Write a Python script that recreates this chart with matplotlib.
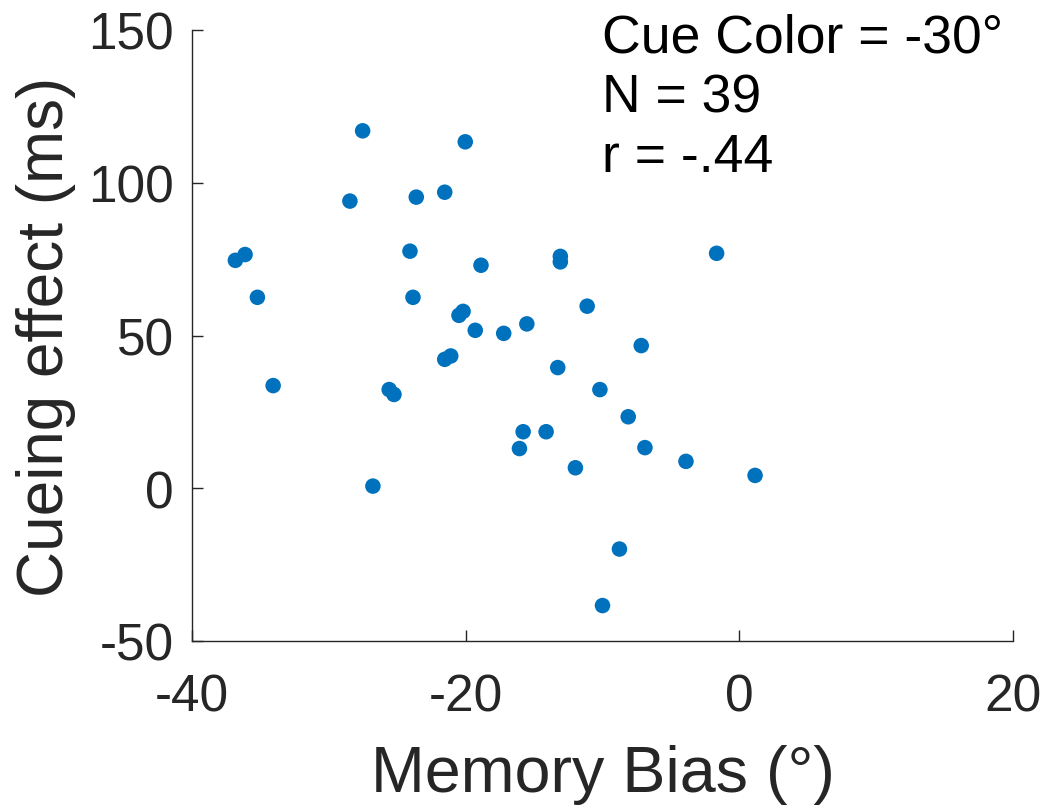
import matplotlib
matplotlib.use("Agg")
import matplotlib.pyplot as plt

plt.rcParams['font.family'] = ['Liberation Sans', 'DejaVu Sans']

memory_bias = [-36.83, -36.12, -35.22, -34.07, -28.46, -27.53, -26.78, -25.59, -25.24, -24.07,
               -23.85, -23.61, -21.53, -21.53, -21.09, -20.49, -20.19, -20.03, -19.30, -18.88,
               -17.22, -15.53, -15.80, -16.07, -14.12, -13.08, -13.08, -13.27, -11.98, -11.12,
               -10.19, -10.00, -8.76, -8.12, -7.17, -6.90, -3.90, -1.66, 1.15]
cueing_effect = [74.6, 76.5, 62.5, 33.6, 94.0, 117.0, 0.7, 32.3, 30.7, 77.6,
                 62.5, 95.3, 96.9, 42.2, 43.3, 56.6, 57.9, 113.4, 51.7, 73.0,
                 50.7, 53.8, 18.5, 13.0, 18.5, 75.9, 74.1, 39.5, 6.7, 59.6,
                 32.3, -38.4, -19.9, 23.4, 46.7, 13.3, 8.8, 76.9, 4.2]
x_ticks = [-40, -20, 0, 20]
y_ticks = [-50, 0, 50, 100, 150]
annotation = "Cue Color = -30°\nN = 39\nr = -.44"

fig = plt.figure(figsize=(10.45, 8.12), dpi=100)
ax = fig.add_axes([192/1045, 1 - 642/812, 821/1045, 611/812])

ax.scatter(memory_bias, cueing_effect, s=125, color='#0072BD', edgecolors='none', zorder=3)

ax.set_xlim(-40, 20)
ax.set_ylim(-50, 150)
ax.set_xticks(x_ticks)
ax.set_yticks(y_ticks)
ax.set_xticklabels([str(v) for v in x_ticks])
ax.set_yticklabels([str(v) for v in y_ticks])

for s in ['top', 'right']:
    ax.spines[s].set_visible(False)
for s in ['left', 'bottom']:
    ax.spines[s].set_color('#262626')
    ax.spines[s].set_linewidth(1.0)

ax.tick_params(direction='in', length=8, width=1.0, color='#262626',
               labelcolor='#262626', labelsize=37)
ax.tick_params(axis='x', pad=23)
ax.tick_params(axis='y', pad=13)

ax.set_xlabel('Memory Bias (°)', fontsize=46.5, color='#262626', labelpad=16)
ax.set_ylabel('Cueing effect (ms)', fontsize=46, color='#262626', labelpad=9)

ax.text(-10.0, 1.029, annotation, transform=ax.get_xaxis_transform(),
        fontsize=38.5, color='black', va='top', ha='left', linespacing=1.25)

fig.savefig('out.png', dpi=100)
